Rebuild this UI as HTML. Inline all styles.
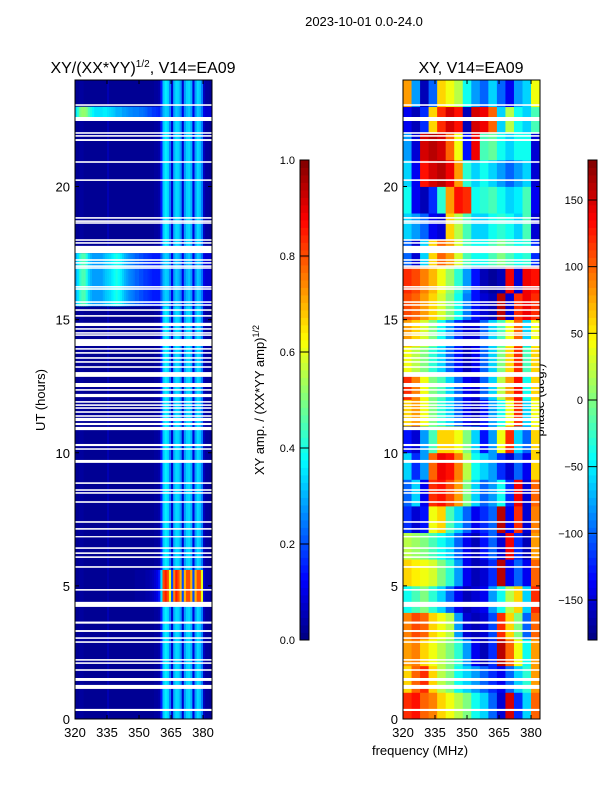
<!DOCTYPE html>
<html><head><meta charset="utf-8"><style>
body{margin:0;background:#fff;}
svg{display:block;font-family:"Liberation Sans","DejaVu Sans",sans-serif;}
</style></head><body>
<svg id="fig" width="600" height="800" viewBox="0 0 600 800">
<text x="364" y="26" font-size="13" text-anchor="middle">2023-10-01 0.0-24.0</text>
<text x="143" y="73" font-size="16" text-anchor="middle">XY/(XX*YY)<tspan font-size="10" dy="-6">1/2</tspan><tspan dy="6">, V14=EA09</tspan></text>
<text x="471" y="73" font-size="16" text-anchor="middle">XY, V14=EA09</text>
<text transform="translate(45,400) rotate(-90)" font-size="13" text-anchor="middle">UT (hours)</text>
<text x="420" y="755" font-size="13" text-anchor="middle">frequency (MHz)</text>
<text transform="translate(264,400) rotate(-90)" font-size="13" text-anchor="middle">XY amp. / (XX*YY amp)<tspan font-size="9" dy="-5">1/2</tspan></text>
<text transform="translate(544,400) rotate(-90)" font-size="13" text-anchor="middle">phase (deg.)</text>
<g id="ampPanel"></g>
<g id="phPanel"></g>
<g id="cb1"></g>
<g id="cb2"></g>
</svg>
<script>
// ---- data ----
const xTicks=[320,335,350,365,380];
const yTicks=[0,5,10,15,20];
const ampTicks=[0.0,0.2,0.4,0.6,0.8,1.0];
const phTicks=[-150,-100,-50,0,50,100,150];
// amplitude profiles, 1 MHz channels 320..383
const ampQuiet=[0.02,0.02,0.03,0.03,0.02,0.02,0.02,0.02,0.02,0.02,0.02,0.02,0.02,0.02,0.02,0.05,0.02,0.02,0.02,0.02,0.02,0.02,0.02,0.02,0.02,0.02,0.02,0.02,0.02,0.02,0.02,0.02,0.02,0.02,0.02,0.02,0.02,0.03,0.03,0.04,0.15,0.32,0.36,0.34,0.25,0.08,0.3,0.34,0.33,0.28,0.08,0.28,0.33,0.34,0.3,0.09,0.28,0.34,0.32,0.25,0.06,0.03,0.03,0.02];
const ampHot=[0.02,0.02,0.03,0.03,0.02,0.02,0.02,0.02,0.02,0.02,0.02,0.02,0.02,0.02,0.02,0.04,0.02,0.02,0.02,0.02,0.02,0.02,0.02,0.02,0.02,0.02,0.02,0.02,0.03,0.03,0.03,0.03,0.03,0.04,0.04,0.05,0.06,0.08,0.1,0.15,0.35,0.8,0.85,0.8,0.6,0.2,0.75,0.85,0.8,0.7,0.2,0.7,0.8,0.8,0.7,0.2,0.7,0.8,0.8,0.6,0.08,0.04,0.04,0.03];
const ampBright=[0.3,0.35,0.42,0.45,0.45,0.4,0.33,0.3,0.28,0.28,0.28,0.28,0.28,0.3,0.32,0.33,0.34,0.36,0.38,0.4,0.38,0.36,0.33,0.3,0.28,0.26,0.25,0.24,0.22,0.22,0.2,0.2,0.18,0.18,0.17,0.16,0.15,0.15,0.15,0.15,0.22,0.3,0.33,0.32,0.26,0.1,0.28,0.32,0.3,0.26,0.1,0.26,0.3,0.32,0.28,0.1,0.26,0.32,0.3,0.24,0.1,0.08,0.08,0.08];
const ampBright2=[0.35,0.42,0.5,0.52,0.52,0.5,0.45,0.4,0.37,0.35,0.35,0.35,0.35,0.36,0.36,0.35,0.34,0.33,0.32,0.3,0.3,0.3,0.28,0.28,0.27,0.26,0.26,0.25,0.25,0.25,0.24,0.24,0.23,0.22,0.2,0.2,0.18,0.18,0.17,0.16,0.22,0.3,0.33,0.32,0.26,0.1,0.28,0.32,0.3,0.26,0.1,0.26,0.3,0.32,0.28,0.1,0.26,0.32,0.3,0.24,0.1,0.08,0.08,0.08];
// amplitude time segments (UT hours) and which profile
const ampSegStart=[0,4.4,5.6,15.5,17.5,22.6,23.0];
const ampSegEnd=[4.4,5.6,15.5,17.5,22.6,23.0,24];
const ampSegProfile=["q","h","q","b","q","b2","q"];
// phase, 4 MHz channels 320..380, hourly rows 0..23 (degrees)
const phaseRows=[
[120,130,100,90,60,40,20,0,-40,-60,-100,-150,150,-120,-60,100],
[60,100,120,60,20,0,-40,-60,-80,-100,-120,-140,-100,-60,-30,80],
[80,90,60,40,20,0,-30,-80,-140,-160,-120,160,100,40,-40,80],
[90,110,100,60,40,20,-80,-150,-160,-150,-110,120,60,0,-100,100],
[-40,-20,0,-30,-60,-100,-140,-160,-150,-140,-80,-40,20,60,-60,120],
[60,50,40,30,0,-30,-80,-140,-160,-150,-120,160,-140,-100,-140,100],
[20,10,0,-20,-40,-60,-100,-140,-160,-130,-100,-150,140,-120,-160,80],
[-120,-150,-130,40,60,-20,-60,-100,-140,-120,-100,160,-140,120,-150,90],
[-100,-60,-140,120,130,110,80,0,-60,-100,-80,-40,-120,140,-150,100],
[-60,-120,-80,100,140,130,90,20,-40,-60,-80,-120,-150,-100,-140,60],
[-130,-150,-80,-20,60,60,40,0,-60,-130,-80,40,120,-60,-100,60],
[60,80,40,0,-30,-60,-100,-140,-160,-130,-80,-40,40,120,-60,40],
[120,90,40,0,-20,-60,-100,-140,-150,-100,-60,20,80,130,-40,60],
[40,20,0,-30,-60,-100,-130,-160,-140,-100,-60,0,60,120,-20,60],
[80,60,30,0,-40,-80,-120,-150,-150,-100,-60,-20,40,100,-60,40],
[110,100,80,60,30,0,-40,-90,-130,-150,-160,160,-150,120,140,120],
[120,110,90,70,40,10,-30,-80,-130,-160,-170,-160,140,-150,140,130],
[-100,-150,-60,60,100,80,30,-20,-40,-40,-20,0,-20,-40,-30,-120],
[-60,-80,-100,-140,-150,60,20,-20,-60,-60,-40,-30,-40,-60,-20,-150],
[-40,-140,-160,-120,-30,80,130,120,-40,-30,-20,-40,-60,-50,-20,-140],
[-60,-140,130,150,160,140,80,-30,-60,-40,-60,-80,-100,-80,-60,-150],
[-80,-150,150,160,150,100,40,-130,140,-20,-10,-40,-60,-40,-40,-150],
[-140,-160,-120,60,120,150,130,-160,150,140,100,-60,20,-40,-60,-20],
[80,-80,-160,-100,60,40,20,-40,-80,-100,-60,-100,-140,-80,-60,40]];
// flagged (blank) time ranges, UT hours
const gapStart=[0.30,1.13,1.43,1.81,2.07,2.19,2.86,3.01,3.27,3.58,4.21,4.82,5.68,6.05,6.20,6.39,6.84,7.11,7.37,8.12,8.46,8.57,8.83,9.62,10.11,10.25,10.85,11.04,11.19,11.35,11.50,11.65,11.76,11.88,12.09,12.33,12.47,12.85,13.19,13.38,13.53,13.72,13.87,14.01,14.39,14.47,14.62,14.76,15.11,15.33,15.52,15.63,16.12,16.20,16.91,16.98,17.10,17.21,17.50,17.85,17.96,18.60,18.67,18.79,20.21,20.89,21.71,21.87,21.98,22.46,23.03];
const gapEnd=[0.38,1.28,1.54,1.87,2.13,2.25,2.92,3.07,3.34,3.66,4.40,4.88,5.74,6.11,6.26,6.45,6.87,7.17,7.43,8.18,8.52,8.63,8.89,9.73,10.17,10.33,10.97,11.12,11.31,11.41,11.56,11.71,11.82,11.94,12.21,12.39,12.62,13.03,13.25,13.44,13.59,13.78,13.93,14.27,14.45,14.53,14.68,14.88,15.17,15.39,15.58,15.69,16.18,16.26,16.97,17.04,17.16,17.27,17.77,17.91,18.02,18.66,18.73,18.85,20.27,20.95,21.78,21.93,22.04,22.61,23.09];

// ---- helpers ----
const NS="http://www.w3.org/2000/svg";
function mk(tag,attrs,parent){const e=document.createElementNS(NS,tag);for(const k in attrs)e.setAttribute(k,attrs[k]);parent.appendChild(e);return e;}
function jet(v){v=Math.max(0,Math.min(1,v));
 const r=Math.max(0,Math.min(1,Math.min(4*v-1.5,-4*v+4.5)));
 const g=Math.max(0,Math.min(1,Math.min(4*v-0.5,-4*v+3.5)));
 const b=Math.max(0,Math.min(1,Math.min(4*v+0.5,-4*v+2.5)));
 return `rgb(${Math.round(r*255)},${Math.round(g*255)},${Math.round(b*255)})`;}
const fMin=320,fMax=384.2,tMin=0,tMax=24;
const panels={amp:{x0:75,x1:212},ph:{x0:403,x1:540}};
const y0=80,y1=719;
function xs(p,f){return p.x0+(f-fMin)/(fMax-fMin)*(p.x1-p.x0);}
function ys(t){return y1-(t-tMin)/(tMax-tMin)*(y1-y0);}
const profiles={q:ampQuiet,h:ampHot,b:ampBright,b2:ampBright2};

// amplitude panel
const gA=document.getElementById('ampPanel');
const pA=panels.amp;
mk('rect',{x:pA.x0,y:y0,width:pA.x1-pA.x0,height:y1-y0,fill:jet(0.02)},gA);
for(let s=0;s<ampSegStart.length;s++){
 const prof=profiles[ampSegProfile[s]];
 for(let i=0;i<prof.length;i++){
  const f0=320+i,f1=Math.min(fMax,321+i+(i==prof.length-1?0.2:0));
  const r=mk('rect',{x:xs(pA,f0),y:ys(ampSegEnd[s]),width:xs(pA,f1)-xs(pA,f0)+0.4,height:ys(ampSegStart[s])-ys(ampSegEnd[s]),fill:jet(prof[i])},gA);
  
  
 }
}
// phase panel
const gP=document.getElementById('phPanel');
const pP=panels.ph;
for(let h=0;h<phaseRows.length;h++){
 for(let c=0;c<phaseRows[h].length;c++){
  const f0=320+4*c,f1=Math.min(fMax,324+4*c+(c==15?0.2:0));
  const r=mk('rect',{x:xs(pP,f0),y:ys(h+1),width:xs(pP,f1)-xs(pP,f0)+0.4,height:ys(h)-ys(h+1)+0.4,fill:jet((phaseRows[h][c]+180)/360)},gP);
  
  
 }
}
// gaps + axes for both
for(const [key,g] of [['amp',gA],['ph',gP]]){
 const p=panels[key];
 for(let k=0;k<gapStart.length;k++){
  const r=mk('rect',{x:p.x0,y:ys(gapEnd[k]),width:p.x1-p.x0,height:Math.max(1.3,ys(gapStart[k])-ys(gapEnd[k])),fill:'#fff'},g);
  
  
 }
 const fr=mk('rect',{x:p.x0,y:y0,width:p.x1-p.x0,height:y1-y0,fill:'none',stroke:'#000','stroke-width':1},g);
 
 
 for(const f of xTicks){const x=xs(p,f);
  mk('line',{x1:x,y1:y1,x2:x,y2:y1-4,stroke:'#000'},g);
  mk('line',{x1:x,y1:y0,x2:x,y2:y0+4,stroke:'#000'},g);
  const t=mk('text',{x:x,y:y1+18,'font-size':13,'text-anchor':'middle'},g);t.textContent=f;
  
  }
 for(const v of yTicks){const y=ys(v);
  mk('line',{x1:p.x0,y1:y,x2:p.x0+4,y2:y,stroke:'#000'},g);
  mk('line',{x1:p.x1,y1:y,x2:p.x1-4,y2:y,stroke:'#000'},g);
  const t=mk('text',{x:p.x0-5,y:y+5,'font-size':13,'text-anchor':'end'},g);t.textContent=v;
  
  }
}
// colorbars
function colorbar(id,x,vmin,vmax,ticks,fmt){
 const g=document.getElementById(id);const top=160,bot=640,w=9;
 const n=64;
 for(let i=0;i<n;i++){const yA=bot-(i+1)*(bot-top)/n;
  mk('rect',{x:x,y:yA,width:w,height:(bot-top)/n+0.4,fill:jet((i+0.5)/n)},g);}
 mk('rect',{x:x,y:top,width:w,height:bot-top,fill:'none',stroke:'#000'},g);
 for(const v of ticks){const y=bot-(v-vmin)/(vmax-vmin)*(bot-top);
  mk('line',{x1:x,y1:y,x2:x+w,y2:y,stroke:'#000'},g);
  const t=mk('text',{x:x-5,y:y+4,'font-size':11,'text-anchor':'end'},g);t.textContent=fmt(v);
  
  }
}
colorbar('cb1',300,0,1,ampTicks,v=>v.toFixed(1));
colorbar('cb2',588,-180,180,phTicks,v=>v<0?'\u2212'+(-v):''+v);
</script>
</body></html>
